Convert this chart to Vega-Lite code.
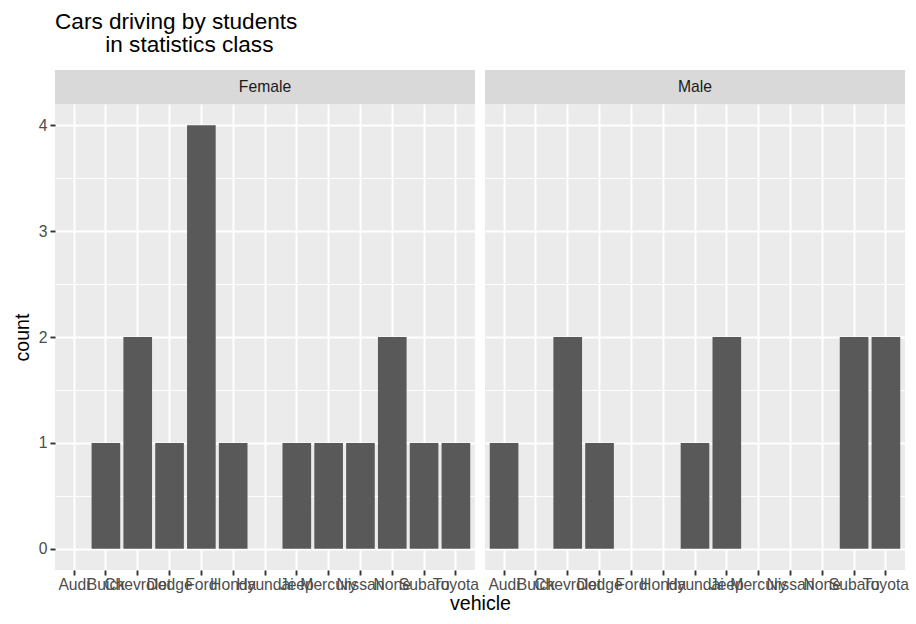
{
  "$schema": "https://vega.github.io/schema/vega-lite/v6.json",
  "background": "white",
  "padding": {"left": 12, "top": 11, "right": 11, "bottom": 5},
  "title": {
    "text": ["Cars driving by students", "\u200b\u00a0\u00a0\u00a0\u00a0\u00a0\u00a0\u00a0\u00a0in statistics class"],
    "anchor": "start",
    "frame": "group",
    "font": "Liberation Sans",
    "fontSize": 22.6,
    "fontWeight": "normal",
    "color": "#000000",
    "lineHeight": 23,
    "offset": 13
  },
  "datasets": {
    "cars": [
      {"sex": "Female", "vehicle": "Buick", "count": 1},
      {"sex": "Female", "vehicle": "Chevrolet", "count": 2},
      {"sex": "Female", "vehicle": "Dodge", "count": 1},
      {"sex": "Female", "vehicle": "Ford", "count": 4},
      {"sex": "Female", "vehicle": "Honda", "count": 1},
      {"sex": "Female", "vehicle": "Jeep", "count": 1},
      {"sex": "Female", "vehicle": "Mercury", "count": 1},
      {"sex": "Female", "vehicle": "Nissan", "count": 1},
      {"sex": "Female", "vehicle": "None", "count": 2},
      {"sex": "Female", "vehicle": "Subaru", "count": 1},
      {"sex": "Female", "vehicle": "Toyota", "count": 1},
      {"sex": "Male", "vehicle": "Audi", "count": 1},
      {"sex": "Male", "vehicle": "Chevrolet", "count": 2},
      {"sex": "Male", "vehicle": "Dodge", "count": 1},
      {"sex": "Male", "vehicle": "Hyundai", "count": 1},
      {"sex": "Male", "vehicle": "Jeep", "count": 2},
      {"sex": "Male", "vehicle": "Subaru", "count": 2},
      {"sex": "Male", "vehicle": "Toyota", "count": 2}
    ],
    "strips": [{"sex": "Female"}, {"sex": "Male"}]
  },
  "spacing": 0,
  "vconcat": [
    {
      "spacing": 10,
      "bounds": "flush",
      "hconcat": [
        {
          "width": 420,
          "height": 34,
          "view": {"fill": "#D9D9D9", "stroke": null},
          "data": {"name": "strips"},
          "transform": [{"filter": "datum.sex === 'Female'"}],
          "mark": {"type": "text", "fontSize": 15.7, "color": "#1A1A1A", "font": "Liberation Sans", "baseline": "middle", "align": "center"},
          "encoding": {
            "text": {"field": "sex"},
            "x": {"field": "sex", "type": "nominal", "axis": null},
            "y": {"field": "sex", "type": "nominal", "axis": null}
          }
        },
        {
          "width": 420,
          "height": 34,
          "view": {"fill": "#D9D9D9", "stroke": null},
          "data": {"name": "strips"},
          "transform": [{"filter": "datum.sex === 'Male'"}],
          "mark": {"type": "text", "fontSize": 15.7, "color": "#1A1A1A", "font": "Liberation Sans", "baseline": "middle", "align": "center"},
          "encoding": {
            "text": {"field": "sex"},
            "x": {"field": "sex", "type": "nominal", "axis": null},
            "y": {"field": "sex", "type": "nominal", "axis": null}
          }
        }
      ]
    },
    {
      "spacing": 10,
      "bounds": "flush",
      "hconcat": [
        {
          "width": 420,
          "height": 466,
          "view": {"fill": "#EBEBEB", "stroke": null},
          "data": {"name": "cars"},
          "transform": [{"filter": "datum.sex === 'Female'"}],
          "mark": {"type": "bar", "color": "#595959"},
          "encoding": {
            "x": {
              "field": "vehicle", "type": "nominal",
              "scale": {"domain": ["Audi", "Buick", "Chevrolet", "Dodge", "Ford", "Honda", "Hyundai", "Jeep", "Mercury", "Nissan", "None", "Subaru", "Toyota"], "paddingInner": 0.1, "paddingOuter": 0.15},
              "axis": {
                "title": "vehicle", "titleX": 425, "titleAlign": "center", "titleFontSize": 19.6, "titleFontWeight": "normal", "titleColor": "#000000", "titlePadding": 3,
                "bandPosition": 0.5, "grid": true, "gridColor": "#FFFFFF", "gridWidth": 1.9,
                "labelAngle": 0, "labelOverlap": false, "labelAlign": "center", "labelFontSize": 15.7, "labelColor": "#4D4D4D", "labelPadding": 2,
                "tickColor": "#333333", "tickSize": 5, "tickWidth": 1.9, "domain": false
              }
            },
            "y": {
              "field": "count", "type": "quantitative",
              "scale": {"domain": [-0.2, 4.2], "nice": false, "zero": false},
              "axis": {
                "title": "count", "titleFontSize": 19.6, "titleFontWeight": "normal", "titleColor": "#000000", "titlePadding": 6,
                "values": [0, 0.5, 1, 1.5, 2, 2.5, 3, 3.5, 4],
                "labelExpr": "datum.value % 1 === 0 ? format(datum.value, 'd') : ''",
                "grid": true, "gridColor": "#FFFFFF",
                "gridWidth": {"condition": {"test": "datum.value % 1 !== 0", "value": 0.95}, "value": 1.9},
                "tickOpacity": {"condition": {"test": "datum.value % 1 !== 0", "value": 0}, "value": 1},
                "labelFontSize": 15.7, "labelColor": "#4D4D4D", "labelPadding": 3,
                "tickColor": "#333333", "tickSize": 5, "tickWidth": 1.9, "domain": false
              }
            },
            "y2": {"datum": 0}
          }
        },
        {
          "width": 420,
          "height": 466,
          "view": {"fill": "#EBEBEB", "stroke": null},
          "data": {"name": "cars"},
          "transform": [{"filter": "datum.sex === 'Male'"}],
          "mark": {"type": "bar", "color": "#595959"},
          "encoding": {
            "x": {
              "field": "vehicle", "type": "nominal",
              "scale": {"domain": ["Audi", "Buick", "Chevrolet", "Dodge", "Ford", "Honda", "Hyundai", "Jeep", "Mercury", "Nissan", "None", "Subaru", "Toyota"], "paddingInner": 0.1, "paddingOuter": 0.15},
              "axis": {
                "title": null,
                "bandPosition": 0.5, "grid": true, "gridColor": "#FFFFFF", "gridWidth": 1.9,
                "labelAngle": 0, "labelOverlap": false, "labelAlign": "center", "labelFontSize": 15.7, "labelColor": "#4D4D4D", "labelPadding": 2,
                "tickColor": "#333333", "tickSize": 5, "tickWidth": 1.9, "domain": false
              }
            },
            "y": {
              "field": "count", "type": "quantitative",
              "scale": {"domain": [-0.2, 4.2], "nice": false, "zero": false},
              "axis": {
                "title": null, "labels": false, "ticks": false, "domain": false,
                "values": [0, 0.5, 1, 1.5, 2, 2.5, 3, 3.5, 4],
                "grid": true, "gridColor": "#FFFFFF",
                "gridWidth": {"condition": {"test": "datum.value % 1 !== 0", "value": 0.95}, "value": 1.9}
              }
            },
            "y2": {"datum": 0}
          }
        }
      ]
    }
  ],
  "config": {
    "font": "Liberation Sans",
    "view": {"stroke": null}
  }
}
